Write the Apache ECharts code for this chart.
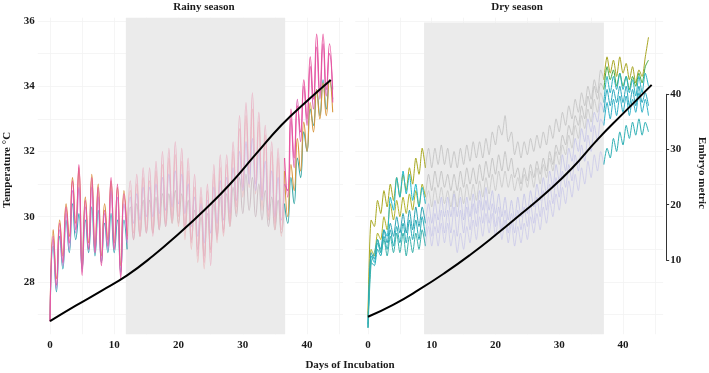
<!DOCTYPE html>
<html>
<head>
<meta charset="utf-8">
<script src="https://cdn.jsdelivr.net/npm/echarts@6/dist/echarts.min.js"></script>
<style>
  html, body { margin: 0; padding: 0; background: #fff; }
  #main { width: 709px; height: 373px; }
</style>
</head>
<body>
<div id="main"></div>
<script>
// readings every half day (troughs at whole days, peaks in between), day 0 .. 44
var STEP = 0.5;

// rainy season nests
var rainy1 = [26.8,
  29.4, 27.9, 29.8, 28.6, 30.3, 29.2, 31.1, 29.6, 31.6, 28.2, 30.5, 29.0,
  31.2, 28.9, 30.9, 28.5, 30.2, 29.1, 31.2, 29.0, 31.0, 28.1, 30.7, 29.3,
  31.1, 29.3, 31.3, 29.4, 31.5, 29.5, 31.5, 29.4, 31.7, 29.6, 32.0, 29.7,
  32.1, 29.9, 32.3, 30.0, 32.1, 29.6, 31.8, 29.2, 31.3, 28.8, 30.9, 28.6,
  31.0, 28.5, 31.6, 29.3, 31.9, 29.5, 31.9, 29.8, 32.3, 30.3, 33.1, 30.9,
  33.5, 31.3, 33.8, 31.0, 33.2, 30.6, 32.8, 30.0, 32.3, 29.8, 32.1, 29.6,
  31.8, 30.6, 33.3, 31.8, 33.4, 32.6, 34.2, 33.0, 34.9, 33.6, 35.6, 33.8,
  35.6, 33.9, 35.3, 33.5];
var rainy2 = [26.8,
  29.6, 28.1, 29.9, 28.8, 30.4, 29.4, 31.2, 29.8, 31.5, 28.5, 30.6, 29.2,
  31.3, 29.1, 31.0, 28.8, 30.4, 29.3, 31.1, 29.2, 30.9, 28.5, 30.8, 29.4,
  30.8, 29.5, 31.0, 29.4, 31.2, 29.6, 31.1, 29.5, 31.4, 29.7, 31.6, 29.8,
  31.8, 29.8, 31.9, 29.7, 31.7, 29.3, 31.4, 29.0, 30.9, 28.6, 30.6, 28.4,
  30.8, 28.9, 31.3, 29.2, 31.5, 29.4, 31.6, 29.7, 32.0, 30.1, 32.7, 30.6,
  33.1, 30.9, 33.3, 30.7, 32.9, 30.2, 32.5, 29.9, 32.0, 29.6, 31.8, 29.4,
  31.4, 30.0, 31.6, 30.8, 32.4, 31.4, 32.9, 32.0, 33.5, 32.6, 33.9, 33.0,
  34.1, 33.1, 34.2, 33.2];
var rainy3 = [26.8,
  29.1, 27.7, 29.4, 28.4, 29.9, 28.9, 30.4, 29.3, 30.1, 28.4, 29.9, 28.9,
  30.3, 28.8, 30.2, 28.6, 29.8, 28.9, 30.1, 28.9, 29.9, 28.3, 29.9, 29.0,
  30.3, 29.3, 30.4, 29.4, 30.5, 29.5, 30.5, 29.5, 30.6, 29.6, 30.7, 29.7,
  30.7, 29.8, 30.8, 29.8, 30.7, 29.6, 30.5, 29.3, 30.2, 29.0, 30.0, 28.8,
  30.1, 29.0, 30.4, 29.4, 30.6, 29.6, 30.7, 29.7, 30.9, 30.0, 31.2, 30.1,
  31.3, 30.2, 31.2, 30.0, 31.0, 29.9, 30.8, 29.7, 30.6, 29.6, 30.5, 29.5,
  30.4, 29.8, 31.2, 30.4, 31.8, 31.2, 32.6, 32.0, 33.3, 32.8, 33.9, 33.1,
  34.2, 33.3, 34.2, 33.6];
var rainy4 = [26.8,
  29.3, 27.8, 29.6, 28.5, 30.1, 29.0, 30.8, 29.5, 30.9, 28.3, 30.3, 29.0,
  30.9, 28.9, 30.6, 28.6, 30.1, 29.0, 30.8, 29.0, 30.6, 28.2, 30.4, 29.2,
  30.6, 29.8, 30.7, 29.9, 30.9, 30.0, 30.9, 30.0, 31.0, 30.1, 31.2, 30.2,
  31.3, 30.3, 31.4, 30.4, 31.3, 30.1, 31.0, 29.7, 30.6, 29.4, 30.4, 29.2,
  30.5, 29.5, 30.9, 29.8, 31.1, 29.9, 31.2, 30.1, 31.5, 30.5, 32.0, 30.8,
  32.3, 31.0, 32.4, 30.8, 32.0, 30.5, 31.7, 30.2, 31.4, 30.0, 31.2, 29.9,
  31.0, 30.8, 33.0, 31.5, 33.6, 32.3, 34.0, 32.8, 34.6, 33.3, 35.2, 33.6,
  35.3, 33.7, 35.0, 33.9];

// dry season nests
var dry1 = [27.0,
  29.9, 29.7, 30.5, 30.1, 30.8, 30.3, 31.0, 30.5, 31.2, 30.6, 31.3, 30.8,
  31.5, 31.0, 31.8, 31.3, 32.1, 31.5, 32.1, 31.5, 32.1, 31.6, 32.2, 31.6,
  32.1, 31.5, 32.0, 31.5, 32.1, 31.6, 32.2, 31.7, 32.3, 31.8, 32.3, 31.8,
  32.4, 31.9, 32.6, 32.2, 32.8, 32.5, 33.1, 32.3, 32.6, 31.9, 32.3, 31.8,
  32.3, 31.9, 32.4, 32.0, 32.5, 32.1, 32.6, 32.2, 32.8, 32.4, 33.0, 32.6,
  33.2, 32.8, 33.4, 33.0, 33.6, 33.2, 33.8, 33.4, 34.0, 33.6, 34.2, 33.8,
  34.5, 34.2, 34.9, 34.4, 34.8, 34.3, 34.9, 34.4, 34.7, 34.2, 34.6, 34.1,
  34.5, 34.3, 34.9, 35.5];
var dry2 = [26.9,
  29.0, 28.8, 29.5, 29.3, 30.0, 29.6, 30.4, 29.9, 30.5, 30.0, 30.6, 30.1,
  30.7, 30.2, 30.8, 30.3, 31.0, 30.6, 31.3, 30.8, 31.4, 30.9, 31.4, 30.9,
  31.3, 30.8, 31.3, 30.8, 31.4, 30.9, 31.5, 31.0, 31.5, 31.0, 31.6, 31.1,
  31.7, 31.2, 31.8, 31.3, 31.9, 31.4, 32.0, 31.4, 31.8, 31.2, 31.5, 31.0,
  31.5, 31.1, 31.6, 31.2, 31.7, 31.3, 31.8, 31.4, 32.0, 31.6, 32.2, 31.9,
  32.5, 32.2, 32.8, 32.5, 33.1, 32.8, 33.4, 33.0, 33.7, 33.3, 34.0, 33.6,
  34.1, 33.9, 34.6, 34.2, 34.5, 34.0, 34.4, 34.0, 34.3, 33.9, 34.3, 34.0,
  34.4, 34.1, 34.6, 34.8];
var dry3 = [26.7,
  28.8, 28.6, 29.2, 28.9, 29.6, 29.4, 30.6, 30.2, 31.2, 30.6, 31.4, 30.7,
  31.3, 30.5, 31.0, 30.3, 30.9, 30.4, 30.8, 30.3, 30.9, 30.4, 30.9, 30.4,
  30.8, 30.3, 30.8, 30.3, 30.9, 30.4, 31.0, 30.5, 31.0, 30.5, 31.1, 30.6,
  31.2, 30.7, 31.3, 30.8, 31.4, 30.9, 31.4, 30.9, 31.3, 30.8, 31.2, 30.8,
  31.3, 30.9, 31.4, 30.9, 31.5, 31.0, 31.6, 31.2, 31.8, 31.4, 32.0, 31.6,
  32.2, 31.9, 32.5, 32.1, 32.8, 32.4, 33.1, 32.7, 33.3, 32.9, 33.6, 33.2,
  33.8, 33.5, 34.3, 33.8, 34.3, 33.9, 34.4, 33.9, 34.3, 33.8, 34.2, 33.7,
  34.3, 33.8, 34.4, 34.0];
var dry4 = [26.6,
  28.9, 28.7, 29.3, 29.0, 29.6, 29.2, 29.8, 29.4, 30.0, 29.5, 30.1, 29.5,
  30.2, 29.6, 30.3, 29.7, 30.3, 29.8, 30.4, 29.8, 30.5, 29.9, 30.6, 30.0,
  30.6, 30.0, 30.7, 30.0, 30.6, 29.9, 30.6, 30.0, 30.7, 30.1, 30.8, 30.2,
  30.9, 30.2, 30.8, 30.1, 30.7, 30.0, 30.6, 29.9, 30.5, 29.9, 30.6, 30.0,
  30.7, 30.1, 30.8, 30.3, 31.0, 30.5, 31.2, 30.7, 31.4, 30.9, 31.6, 31.1,
  31.9, 31.4, 32.1, 31.7, 32.4, 32.0, 32.7, 32.3, 33.0, 32.6, 33.2, 32.9,
  33.5, 33.2, 33.9, 33.4, 33.9, 33.5, 34.0, 33.5, 34.0, 33.4, 33.9, 33.4,
  34.0, 33.5, 33.8, 33.4];
var dry5 = [26.6,
  28.6, 28.5, 29.0, 28.8, 29.4, 29.0, 29.6, 29.1, 29.7, 29.2, 29.8, 29.2,
  29.9, 29.3, 29.9, 29.3, 30.0, 29.4, 30.0, 29.4, 30.1, 29.5, 30.2, 29.5,
  30.2, 29.5, 30.3, 29.4, 30.2, 29.5, 30.3, 29.6, 30.4, 29.7, 30.5, 29.8,
  30.5, 29.8, 30.4, 29.7, 30.3, 29.6, 30.2, 29.5, 30.1, 29.5, 30.2, 29.6,
  30.3, 29.7, 30.4, 29.8, 30.6, 30.0, 30.8, 30.2, 31.0, 30.4, 31.2, 30.6,
  31.4, 30.9, 31.6, 31.1, 31.9, 31.4, 32.2, 31.7, 32.5, 32.0, 32.8, 32.3,
  33.0, 32.8, 33.5, 33.0, 33.6, 33.1, 33.7, 33.2, 33.7, 33.1, 33.6, 33.2,
  33.8, 33.2, 33.6, 33.1];
var dry6 = [26.6,
  28.6, 28.9, 29.3, 28.9, 29.3, 28.8, 29.4, 28.9, 29.5, 28.9, 29.5, 28.8,
  29.4, 28.9, 29.5, 29.0, 29.6, 29.1, 29.7, 29.1, 29.7, 29.1, 29.8, 29.2,
  29.8, 29.1, 29.6, 28.9, 29.5, 29.0, 29.7, 29.2, 29.9, 29.3, 30.0, 29.4,
  30.1, 29.5, 30.1, 29.4, 30.0, 29.3, 29.9, 29.2, 29.8, 29.1, 29.7, 29.2,
  29.8, 29.3, 30.0, 29.5, 30.1, 29.6, 30.3, 29.8, 30.5, 30.0, 30.7, 30.2,
  30.9, 30.4, 31.1, 30.6, 31.3, 30.8, 31.5, 31.0, 31.7, 31.2, 31.9, 31.4,
  32.0, 31.6, 32.1, 31.8, 32.4, 32.0, 32.6, 32.2, 32.8, 32.4, 32.9, 32.5,
  33.0, 32.5, 32.9, 32.6];

// embryo metric (right axis units)
var rainyEmbryoDays = [0, 4, 8, 12, 16, 20, 24, 28, 32, 36, 40, 43.7];
var rainyEmbryo = [-1.1, 1.7, 4.4, 7.2, 10.7, 14.7, 19.0, 23.7, 29.1, 34.4, 38.8, 42.6];
var dryEmbryoDays = [0, 4, 8, 12, 16, 20, 24, 28, 32, 36, 40, 44.5];
var dryEmbryo = [-0.3, 1.9, 4.6, 7.6, 10.9, 14.5, 18.3, 22.2, 26.6, 31.8, 36.5, 41.7];

// grey (middle) period of each season, in days
var rainyGrey = [11.8, 36.6];
var dryGrey = [8.8, 37.0];

var xTickLabels = [0, 10, 20, 30, 40];
var xGridDays = [0, 5, 10, 15, 20, 25, 30, 35, 40, 45];
var tempLabels = [28, 30, 32, 34, 36];
var tempGrid = [27, 28, 29, 30, 31, 32, 33, 34, 35, 36];
var embryoLabels = [10, 20, 30, 40];

// colours: [before, during, after] the grey period (drawn in this order, last on top)
var rainyColors = [
  ['#3aa5b3', '#c9b9c0', '#3aa9a8'],
  ['#d88c3a', '#ecb9bb', '#d8963c'],
  ['#c58bd8', '#c9b9e6', '#dc5fb0'],
  ['#e8559f', '#eaafc2', '#e8559f']
];
var dryColors = [
  ['#a8a820', '#b9b9b9', '#a9a624'],
  ['#b1b32c', '#b7b7b7', '#43a843'],
  ['#1fb8cc', '#c2c2c2', '#2bb3c4'],
  ['#2aa3b3', '#bdbce8', '#2aa8bd'],
  ['#27adb9', '#c0bfe9', '#30b0c6'],
  ['#3bb2ac', '#c5c4ea', '#2fb0b5']
];

var font = 'Liberation Serif';
var labelStyle = { color: '#1a1a1a', fontFamily: font, fontWeight: 'bold', fontSize: 11 };
var gridLine = { show: true, lineStyle: { color: '#f3f3f3', width: 0.8 } };

function seg(vals, from, to) {
  var out = [];
  for (var i = from; i <= to; i++) {
    out.push([i * STEP, vals[i]]);
  }
  return out;
}

function pairs(days, vals) {
  var out = [];
  for (var i = 0; i < days.length; i++) {
    out.push([days[i], vals[i]]);
  }
  return out;
}

function panelSeries(lines, colors, cut, axisIndex, smooth, widths) {
  var out = [];
  var last = lines[0].length - 1;
  var parts = [[0, cut[0]], [cut[0], cut[1]], [cut[1], last]];
  for (var p = 0; p < 3; p++) {
    for (var k = 0; k < lines.length; k++) {
      out.push({
        type: 'line',
        xAxisIndex: axisIndex,
        yAxisIndex: axisIndex,
        data: seg(lines[k], parts[p][0], parts[p][1]),
        showSymbol: false,
        smooth: smooth,
        lineStyle: { color: colors[k][p], width: widths[p], opacity: p == 1 ? 0.85 : 1 },
        z: p == 1 ? 2 : 3,
        silent: true
      });
    }
  }
  return out;
}

function xAxisFor(gridIndex, min, max, show) {
  return {
    type: 'value',
    gridIndex: gridIndex,
    min: min,
    max: max,
    show: show,
    axisLine: { show: false },
    axisTick: { show: false, customValues: xGridDays },
    axisLabel: { customValues: xTickLabels, margin: 5, textStyle: labelStyle },
    splitLine: gridLine
  };
}

var series = [];
// grey middle periods
series.push({
  type: 'line', xAxisIndex: 0, yAxisIndex: 0, data: [],
  markArea: { silent: true, itemStyle: { color: '#ebebeb' },
    data: [[{ xAxis: rainyGrey[0], yAxis: 26.37 }, { xAxis: rainyGrey[1], yAxis: 36.11 }]] }
});
series.push({
  type: 'line', xAxisIndex: 1, yAxisIndex: 1, data: [],
  markArea: { silent: true, itemStyle: { color: '#ebebeb' },
    data: [[{ xAxis: dryGrey[0], yAxis: 26.32 }, { xAxis: dryGrey[1], yAxis: 35.95 }]] }
});
series = series.concat(panelSeries([rainy3, rainy2, rainy4, rainy1], rainyColors, [24, 73], 0, 0.5, [1.1, 1.1, 1.1]));
series = series.concat(panelSeries([dry1, dry2, dry3, dry4, dry5, dry6], dryColors, [18, 74], 1, 0.25, [1, 0.8, 1]));
series.push({
  type: 'line', xAxisIndex: 2, yAxisIndex: 2, data: pairs(rainyEmbryoDays, rainyEmbryo),
  showSymbol: false, smooth: true, clip: false, z: 10,
  lineStyle: { color: '#000', width: 2 }
});
series.push({
  type: 'line', xAxisIndex: 3, yAxisIndex: 3, data: pairs(dryEmbryoDays, dryEmbryo),
  showSymbol: false, smooth: true, clip: false, z: 10,
  lineStyle: { color: '#000', width: 2 }
});

var option = {
  animation: false,
  backgroundColor: '#fff',
  grid: [
    { left: 37.8, top: 17.7, width: 305.2, height: 316.5 },
    { left: 355.25, top: 17.7, width: 307.9, height: 316.5 },
    { left: 37.8, top: 94.3, width: 305.2, height: 165.6 },
    { left: 355.25, top: 94.3, width: 307.9, height: 165.6 }
  ],
  xAxis: [
    xAxisFor(0, -1.9, 45.6, true),
    xAxisFor(1, -2.0, 46.3, true),
    xAxisFor(2, -1.9, 45.6, false),
    xAxisFor(3, -2.0, 46.3, false)
  ],
  yAxis: [
    {
      type: 'value', gridIndex: 0, min: 26.4, max: 36.1,
      axisLine: { show: false },
      axisTick: { show: false, customValues: tempGrid },
      axisLabel: { customValues: tempLabels, margin: 3, textStyle: labelStyle },
      splitLine: gridLine
    },
    {
      type: 'value', gridIndex: 1, min: 26.4, max: 36.1,
      axisLine: { show: false },
      axisTick: { show: false, customValues: tempGrid },
      axisLabel: { show: false },
      splitLine: gridLine
    },
    { type: 'value', gridIndex: 2, min: 10, max: 40, show: false },
    {
      type: 'value', gridIndex: 3, min: 10, max: 40, interval: 10,
      position: 'right', offset: 3,
      axisLine: { show: true, onZero: false, lineStyle: { color: '#333', width: 1 } },
      axisTick: { show: true, inside: false, length: 3, lineStyle: { color: '#333' } },
      axisLabel: { customValues: embryoLabels, margin: 4, textStyle: labelStyle },
      splitLine: { show: false }
    }
  ],
  graphic: [
    { type: 'text', x: 204, y: 7, silent: true,
      style: { text: 'Rainy season', fill: '#1a1a1a', font: 'bold 11px "Liberation Serif"',
        align: 'center', verticalAlign: 'middle', textAlign: 'center', textVerticalAlign: 'middle' } },
    { type: 'text', x: 517, y: 7, silent: true,
      style: { text: 'Dry season', fill: '#1a1a1a', font: 'bold 11px "Liberation Serif"',
        align: 'center', verticalAlign: 'middle', textAlign: 'center', textVerticalAlign: 'middle' } },
    { type: 'text', x: 350, y: 365, silent: true,
      style: { text: 'Days of Incubation', fill: '#1a1a1a', font: 'bold 11px "Liberation Serif"',
        align: 'center', verticalAlign: 'middle', textAlign: 'center', textVerticalAlign: 'middle' } },
    { type: 'text', x: 7, y: 170, rotation: Math.PI / 2, silent: true,
      style: { text: 'Temperature °C', fill: '#1a1a1a', font: 'bold 11px "Liberation Serif"',
        align: 'center', verticalAlign: 'middle', textAlign: 'center', textVerticalAlign: 'middle' } },
    { type: 'text', x: 702, y: 173, rotation: -Math.PI / 2, silent: true,
      style: { text: 'Embryo metric', fill: '#1a1a1a', font: 'bold 11px "Liberation Serif"',
        align: 'center', verticalAlign: 'middle', textAlign: 'center', textVerticalAlign: 'middle' } }
  ],
  series: series
};

var chart = echarts.init(document.getElementById('main'), null, { renderer: 'canvas' });
chart.setOption(option);
</script>
</body>
</html>
